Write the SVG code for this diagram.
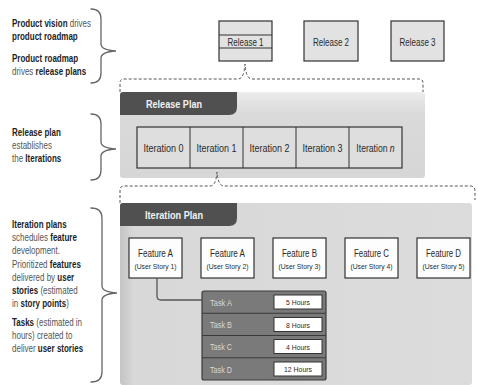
<svg xmlns="http://www.w3.org/2000/svg" width="478" height="385" viewBox="0 0 478 385">
  <defs>
    <style>
      .t { font-family: "Liberation Sans", Arial, sans-serif; fill: #2a2a2a; }
      .side { font-size: 10px; fill: #555; }
      .side .b { font-weight: bold; fill: #1e1e1e; }
      .box { fill: #e2e2e2; stroke: #333; stroke-width: 1.2; }
      .feat { fill: #fdfdfd; stroke: #333; stroke-width: 1.2; }
      .lbl { font-size: 10.5px; text-anchor: middle; }
      .sub { font-size: 8px; text-anchor: middle; }
      .tab { fill: #505050; }
      .tabtxt { font-size: 10.5px; font-weight: bold; fill: #f2f2f2; }
      .brace { fill: none; stroke: #666; stroke-width: 1.3; stroke-linecap: round; }
      .dash { fill: none; stroke: #555; stroke-width: 1; stroke-dasharray: 3 2; }
      .task { fill: #7a7a7a; stroke: #3a3a3a; stroke-width: 1.2; }
      .tasktxt { font-size: 8.5px; fill: #d8d8d8; }
      .hrs { fill: #fff; stroke: #333; stroke-width: 1; }
      .hrstxt { font-size: 8px; text-anchor: middle; }
    </style>
    <linearGradient id="panelFill" x1="0" y1="0" x2="0" y2="1">
      <stop offset="0" stop-color="#ececec"/>
      <stop offset="0.25" stop-color="#dadada"/>
      <stop offset="1" stop-color="#d6d6d6"/>
    </linearGradient>
    <linearGradient id="panelEdge" x1="0" y1="0" x2="1" y2="0">
      <stop offset="0" stop-color="#c4c4c4"/>
      <stop offset="0.04" stop-color="#d8d8d8"/>
      <stop offset="1" stop-color="#dcdcdc"/>
    </linearGradient>
  </defs>

  <rect width="478" height="385" fill="#ffffff"/>

  <!-- Side notes, set in a narrowed face -->
  <g id="notes" class="t side" transform="translate(12 0) scale(0.8 1)">
    <text x="0" y="27"><tspan class="b">Product vision</tspan> drives</text>
    <text x="0" y="40"><tspan class="b">product roadmap</tspan></text>
    <text x="0" y="62"><tspan class="b">Product roadmap</tspan></text>
    <text x="0" y="75">drives <tspan class="b">release plans</tspan></text>

    <text x="0" y="136"><tspan class="b">Release plan</tspan></text>
    <text x="0" y="149">establishes</text>
    <text x="0" y="162">the <tspan class="b">Iterations</tspan></text>

    <text x="0" y="228"><tspan class="b">Iteration plans</tspan></text>
    <text x="0" y="241">schedules <tspan class="b">feature</tspan></text>
    <text x="0" y="254">development.</text>
    <text x="0" y="268">Prioritized <tspan class="b">features</tspan></text>
    <text x="0" y="281">delivered by <tspan class="b">user</tspan></text>
    <text x="0" y="294"><tspan class="b">stories</tspan> (estimated</text>
    <text x="0" y="307">in <tspan class="b">story points</tspan>)</text>
    <text x="0" y="326"><tspan class="b">Tasks</tspan> (estimated in</text>
    <text x="0" y="339">hours) created to</text>
    <text x="0" y="352">deliver <tspan class="b">user stories</tspan></text>
  </g>

  <!-- Braces -->
  <g id="braces">
    <path class="brace" d="M91,9 Q101,9 101,19 L101,44 Q101,50 116,51 Q101,52 101,58 L101,73 Q101,83 91,83"/>
    <path class="brace" d="M91,114 Q101,114 101,124 L101,142 Q101,148 116,149 Q101,150 101,156 L101,170 Q101,180 91,180"/>
    <path class="brace" d="M91,208 Q102,208 102,218 L102,286 Q102,292 117,293 Q102,294 102,300 L102,372 Q102,382 91,382"/>
  </g>

  <!-- Releases -->
  <g id="release1">
    <rect class="box" x="219" y="21" width="53" height="40"/>
    <line x1="219" y1="35" x2="272" y2="35" stroke="#333" stroke-width="1"/>
    <line x1="219" y1="48" x2="272" y2="48" stroke="#333" stroke-width="1"/>
    <text class="t lbl" x="245.5" y="45.5" textLength="36" lengthAdjust="spacingAndGlyphs">Release 1</text>
  </g>
  <g id="release2">
    <rect class="box" x="304" y="21" width="54" height="40"/>
    <text class="t lbl" x="331" y="45.5" textLength="36" lengthAdjust="spacingAndGlyphs">Release 2</text>
  </g>
  <g id="release3">
    <rect class="box" x="391" y="21" width="53" height="40"/>
    <text class="t lbl" x="417.5" y="45.5" textLength="36" lengthAdjust="spacingAndGlyphs">Release 3</text>
  </g>

  <!-- Release plan panel -->
  <g id="release-plan">
    <rect x="120" y="92" width="305" height="86" rx="3" fill="url(#panelFill)"/>
    <path class="tab" d="M120,95 Q120,92 123,92 L237,92 L237,107 Q237,115 229,115 L120,115 Z"/>
    <text class="t tabtxt" x="146" y="107.5" textLength="56" lengthAdjust="spacingAndGlyphs">Release Plan</text>
  </g>

  <!-- Iterations -->
  <g id="iterations">
    <rect x="137" y="127" width="265" height="41" fill="#dedede" stroke="#333" stroke-width="1.2"/>
    <line x1="190" y1="127" x2="190" y2="168" stroke="#333" stroke-width="1"/>
    <line x1="243" y1="127" x2="243" y2="168" stroke="#333" stroke-width="1"/>
    <line x1="296" y1="127" x2="296" y2="168" stroke="#333" stroke-width="1"/>
    <line x1="349" y1="127" x2="349" y2="168" stroke="#333" stroke-width="1"/>
    <text class="t lbl" x="163.5" y="151.5" textLength="40" lengthAdjust="spacingAndGlyphs">Iteration 0</text>
    <text class="t lbl" x="216.5" y="151.5" textLength="40" lengthAdjust="spacingAndGlyphs">Iteration 1</text>
    <text class="t lbl" x="269.5" y="151.5" textLength="40" lengthAdjust="spacingAndGlyphs">Iteration 2</text>
    <text class="t lbl" x="322.5" y="151.5" textLength="40" lengthAdjust="spacingAndGlyphs">Iteration 3</text>
    <text class="t lbl" transform="translate(375.5 151.5) scale(0.82 1)" x="0" y="0">Iteration <tspan font-style="italic">n</tspan></text>
  </g>

  <!-- Iteration plan panel -->
  <g id="iteration-plan">
    <rect x="120" y="203" width="352" height="182" rx="3" fill="url(#panelEdge)"/>
    <path class="tab" d="M120,206 Q120,203 123,203 L237,203 L237,218 Q237,226 229,226 L120,226 Z"/>
    <text class="t tabtxt" x="145" y="218.5" textLength="58" lengthAdjust="spacingAndGlyphs">Iteration Plan</text>
  </g>

  <!-- Features -->
  <g id="feature1">
    <rect class="feat" x="129" y="238" width="53" height="40"/>
    <text class="t lbl" x="155.5" y="256.5" textLength="35" lengthAdjust="spacingAndGlyphs">Feature A</text>
    <text class="t sub" x="155.5" y="268.5" textLength="42" lengthAdjust="spacingAndGlyphs">(User Story 1)</text>
  </g>
  <g id="feature2">
    <rect class="feat" x="201" y="238" width="53" height="40"/>
    <text class="t lbl" x="227.5" y="256.5" textLength="35" lengthAdjust="spacingAndGlyphs">Feature A</text>
    <text class="t sub" x="227.5" y="268.5" textLength="42" lengthAdjust="spacingAndGlyphs">(User Story 2)</text>
  </g>
  <g id="feature3">
    <rect class="feat" x="273" y="238" width="53" height="40"/>
    <text class="t lbl" x="299.5" y="256.5" textLength="35" lengthAdjust="spacingAndGlyphs">Feature B</text>
    <text class="t sub" x="299.5" y="268.5" textLength="42" lengthAdjust="spacingAndGlyphs">(User Story 3)</text>
  </g>
  <g id="feature4">
    <rect class="feat" x="345" y="238" width="53" height="40"/>
    <text class="t lbl" x="371.5" y="256.5" textLength="35" lengthAdjust="spacingAndGlyphs">Feature C</text>
    <text class="t sub" x="371.5" y="268.5" textLength="42" lengthAdjust="spacingAndGlyphs">(User Story 4)</text>
  </g>
  <g id="feature5">
    <rect class="feat" x="417" y="238" width="53" height="40"/>
    <text class="t lbl" x="443.5" y="256.5" textLength="35" lengthAdjust="spacingAndGlyphs">Feature D</text>
    <text class="t sub" x="443.5" y="268.5" textLength="42" lengthAdjust="spacingAndGlyphs">(User Story 5)</text>
  </g>

  <!-- Tasks -->
  <g id="tasks">
    <rect class="task" x="202" y="291" width="124" height="89" rx="2"/>
    <line x1="202" y1="313.25" x2="326" y2="313.25" stroke="#3a3a3a" stroke-width="1.2"/>
    <line x1="202" y1="335.5" x2="326" y2="335.5" stroke="#3a3a3a" stroke-width="1.2"/>
    <line x1="202" y1="357.75" x2="326" y2="357.75" stroke="#3a3a3a" stroke-width="1.2"/>

    <text class="t tasktxt" x="210" y="305.5" textLength="22" lengthAdjust="spacingAndGlyphs">Task A</text>
    <text class="t tasktxt" x="210" y="328" textLength="22" lengthAdjust="spacingAndGlyphs">Task B</text>
    <text class="t tasktxt" x="210" y="350" textLength="22" lengthAdjust="spacingAndGlyphs">Task C</text>
    <text class="t tasktxt" x="210" y="372.5" textLength="22" lengthAdjust="spacingAndGlyphs">Task D</text>

    <rect class="hrs" x="274" y="295" width="48" height="14"/>
    <rect class="hrs" x="274" y="317.5" width="48" height="14"/>
    <rect class="hrs" x="274" y="339.5" width="48" height="14"/>
    <rect class="hrs" x="274" y="362" width="48" height="14"/>
    <text class="t hrstxt" x="298" y="305" textLength="24" lengthAdjust="spacingAndGlyphs">5 Hours</text>
    <text class="t hrstxt" x="298" y="327.5" textLength="24" lengthAdjust="spacingAndGlyphs">8 Hours</text>
    <text class="t hrstxt" x="298" y="349.5" textLength="24" lengthAdjust="spacingAndGlyphs">4 Hours</text>
    <text class="t hrstxt" x="298" y="372" textLength="28" lengthAdjust="spacingAndGlyphs">12 Hours</text>
  </g>

  <!-- Connectors -->
  <g id="connectors">
    <path class="dash" d="M120,92 L120,83 Q120,79 124,79 L238,79 Q244,79 245,64 Q246,79 252,79 L419,79 Q423,79 423,83 L423,92"/>
    <path class="dash" d="M120,203 L120,190 Q120,186 124,186 L210,186 Q216,186 217,172 Q218,186 224,186 L470,186 Q475,186 475,191 L475,200"/>
    <path d="M157,278 L157,296 Q157,300 161,300 L202,300" fill="none" stroke="#555" stroke-width="1.3"/>
  </g>
</svg>
